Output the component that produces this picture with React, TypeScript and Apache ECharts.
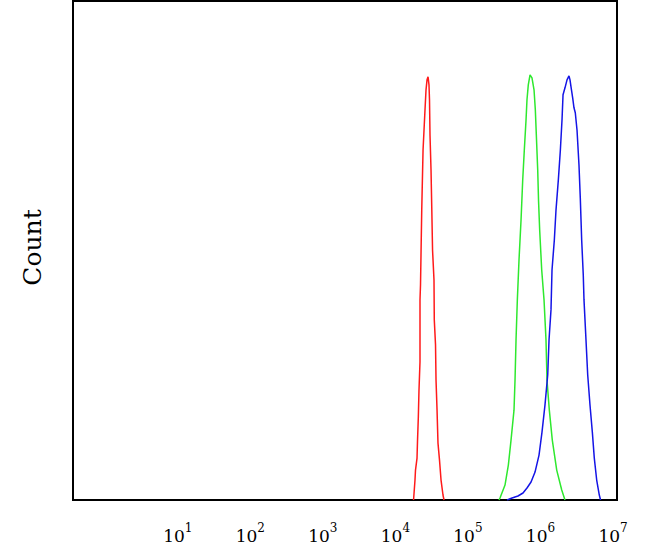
import React, { useEffect, useRef } from "react";
import * as echarts from "echarts";

// x values are log10(intensity); y values are counts (relative)
const redX = [4.195, 4.215, 4.222, 4.243, 4.25, 4.261, 4.27, 4.284, 4.284, 4.291, 4.308, 4.326, 4.353, 4.367, 4.381, 4.395,
  4.408, 4.415, 4.422, 4.436, 4.446, 4.457, 4.477, 4.481, 4.498, 4.505, 4.519, 4.532, 4.553, 4.574, 4.601, 4.615];
const redY = [0, 4.0, 6.0, 8.4, 12.0, 16.6, 22.0, 27.7, 40.1, 43.1, 58.1, 70.1, 78.2, 82.2, 84.2, 84.8,
  83.2, 80.2, 73.1, 66.1, 58.7, 50.1, 44.1, 36.1, 31.1, 24.0, 18.0, 11.4, 8.0, 4.0, 1.0, 0];

const greenX = [5.373, 5.387, 5.456, 5.502, 5.539, 5.58, 5.594, 5.608, 5.626, 5.649, 5.677, 5.7, 5.722, 5.746, 5.759, 5.777, 5.801,
  5.828, 5.856, 5.874, 5.888, 5.907, 5.918, 5.934, 5.962, 5.994, 6.021, 6.035, 6.067, 6.108, 6.169, 6.238, 6.283];
const greenY = [0, 0.4, 3.0, 7.0, 12.0, 18.0, 24.0, 32.1, 40.1, 48.1, 56.1, 64.1, 70.1, 76.2, 80.2, 83.2, 85.2,
  84.6, 82.2, 78.2, 73.1, 66.1, 60.1, 54.1, 46.1, 40.1, 32.1, 24.0, 18.0, 12.0, 6.0, 2.0, 0];

const blueX = [5.484, 5.553, 5.635, 5.704, 5.759, 5.815, 5.87, 5.925, 5.966, 6.007, 6.045, 6.063, 6.09, 6.104, 6.136, 6.159,
  6.191, 6.219, 6.242, 6.256, 6.283, 6.311, 6.338,
  6.352, 6.366, 6.389, 6.407, 6.425, 6.449, 6.476, 6.494, 6.513, 6.535, 6.545, 6.569, 6.596, 6.628, 6.66, 6.687, 6.72, 6.756, 6.773];
const blueY = [0, 0.4, 0.8, 1.4, 2.4, 3.6, 5.6, 9.0, 13.6, 19.0, 25.1, 32.1, 38.1, 46.1, 52.1, 58.1,
  64.1, 70.1, 76.2, 81.2, 82.6, 84.2, 85.0,
  84.2, 82.8, 80.6, 78.6, 77.6, 74.1, 67.1, 60.5, 52.1, 45.1, 40.1, 33.1, 25.1, 19.0, 13.6, 8.4, 4.0, 1.0, 0];

const tickExponents = [1, 2, 3, 4, 5, 6, 7];

const pairs = (xs: number[], ys: number[]) => xs.map((x, i) => [x, ys[i]]);
const SERIF = "DejaVu Serif, serif";

export default function App() {
  const ref = useRef<HTMLDivElement>(null);
  useEffect(() => {
    if (!ref.current) return;
    const chart = echarts.init(ref.current, null, { renderer: "svg" });
    chart.setOption({
      animation: false,
      backgroundColor: "#ffffff",
      grid: {
        left: 73,
        right: 33,
        top: 1,
        bottom: 59,
        show: true,
        borderColor: "#000000",
        borderWidth: 2,
        backgroundColor: "transparent",
      },
      xAxis: {
        type: "value",
        min: -0.5,
        max: 7,
        axisLine: { show: false },
        axisTick: { show: false },
        splitLine: { show: false },
        axisLabel: {
          customValues: tickExponents,
          formatter: (v: number) => "{b|10}{s|" + Math.round(v) + "}",
          color: "#000",
          margin: 22,
          padding: [0, 8, 0, 0],
          rich: {
            b: { fontFamily: SERIF, fontSize: 17, lineHeight: 22, verticalAlign: "bottom", color: "#000" },
            s: { fontFamily: SERIF, fontSize: 12, lineHeight: 13, verticalAlign: "top", color: "#000" },
          },
        },
      },
      yAxis: {
        type: "value",
        min: 0,
        max: 100,
        name: "Count",
        nameLocation: "middle",
        nameGap: 28,
        nameTextStyle: { fontFamily: SERIF, fontSize: 25, color: "#000", padding: [0, 0, 0, 6] },
        axisLine: { show: false },
        axisTick: { show: false },
        axisLabel: { show: false },
        splitLine: { show: false },
      },
      series: [
        { type: "line", data: pairs(redX, redY), showSymbol: false, lineStyle: { color: "#ff1a1a", width: 1.5 }, itemStyle: { color: "#ff1a1a" } },
        { type: "line", data: pairs(greenX, greenY), showSymbol: false, lineStyle: { color: "#2ee82e", width: 1.5 }, itemStyle: { color: "#2ee82e" } },
        { type: "line", data: pairs(blueX, blueY), showSymbol: false, lineStyle: { color: "#1414e6", width: 1.5 }, itemStyle: { color: "#1414e6" } },
      ],
    });
    return () => chart.dispose();
  }, []);
  return <div ref={ref} style={{ position: "fixed", left: 0, top: 0, width: 650, height: 559 }} />;
}
